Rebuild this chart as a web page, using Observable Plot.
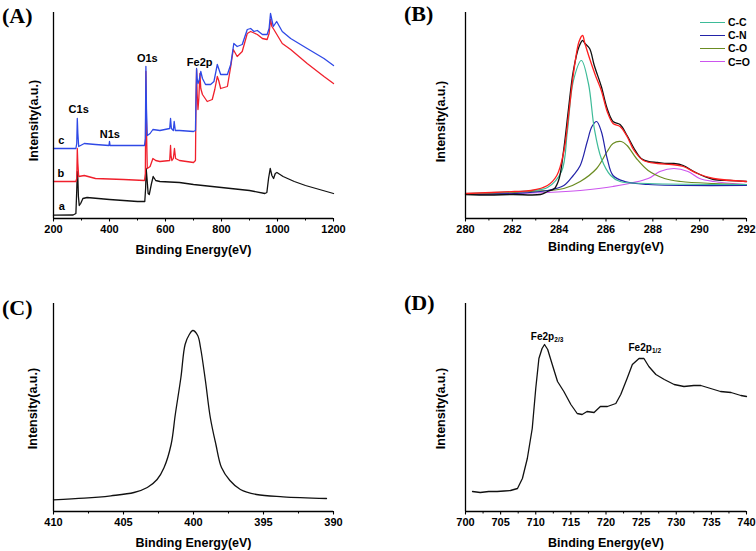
<!DOCTYPE html>
<html><head><meta charset="utf-8">
<script src="https://cdn.jsdelivr.net/npm/d3@7"></script>
<script src="https://cdn.jsdelivr.net/npm/@observablehq/plot@0.6"></script>
<style>
body{margin:0;background:#fff;}
#fig{position:relative;width:756px;height:551px;overflow:hidden;font-family:"Liberation Sans",Arial,Helvetica,sans-serif;}
.panel{position:absolute;}
.plabel{position:absolute;font-family:"Liberation Serif","Times New Roman",serif;font-weight:bold;font-size:22px;line-height:22px;}
.leg{position:absolute;font-weight:bold;font-size:10.5px;line-height:12px;height:12px;white-space:nowrap;}
.leg span.sw{display:inline-block;width:25px;height:0;vertical-align:middle;margin-right:3px;position:relative;top:-1px;}
</style></head>
<body>
<div id="fig">
  <div id="pA" class="panel" style="left:0;top:0"></div>
  <div id="pB" class="panel" style="left:378px;top:0"></div>
  <div id="pC" class="panel" style="left:0;top:275px"></div>
  <div id="pD" class="panel" style="left:378px;top:275px"></div>
  <div class="plabel" style="left:2px;top:5px">(A)</div>
  <div class="plabel" style="left:404px;top:3px">(B)</div>
  <div class="plabel" style="left:2px;top:297px">(C)</div>
  <div class="plabel" style="left:404px;top:292px">(D)</div>
</div>
<script>
// ---------- Panel A: survey spectra ----------
const surveyE_a = [200,270,280,283,285,287,289,292,297,305,320,400,500,526,529,531,534,538,542,550,556,565,580,650,700,800,900,955,962,968,974,980,986,992,998,1020,1060,1100,1150,1200];
const surveyI_a = [3.3,3.5,5,28,47,40,22,13,15,20,21,19,17,17,30,50,40,25,24,35,42,38,37,36,34,31,28,25,26,40,50,43,40,45,46,42,37,33,29,25];
const surveyE_b = [200,280,283,285,287,290,310,350,450,525,528,530,532,535,545,555,565,580,615,618,620,623,628,632,636,650,700,707,709,711,713,716,719,723,726,732,749,767,776,785,790,797,821,833,842,856,874,892,904,928,946,963,970,975,980,987,1017,1047,1106,1166,1200];
const surveyI_b = [37,37,40,70,55,42,43,40,39,38,45,147,90,50,52,60,58,57,58,73,62,58,60,70,60,58,56,58,120,149,125,109,120,145,130,124,117,119,129,142,138,130,132,152,169,162,167,185,187,184,180,179,185,199,192,189,175,169,155,142,135];
const surveyE_c = [200,280,283,285,287,290,310,350,398,400,402,450,525,528,530,532,535,545,555,580,615,618,621,628,631,635,650,700,707,709,711,713,716,720,726,732,743,761,773,785,797,821,833,844,856,874,892,904,916,928,946,963,970,975,985,997,1017,1047,1106,1166,1200];
const surveyI_c = [70,70,75,100,85,72,75,74,73,77,73,73,73,80,152,110,83,85,89,88,90,100,90,88,97,88,88,87,88,120,150,140,135,138,147,140,134,134,137,154,144,144,154,175,172,174,189,190,187,188,184,184,190,205,192,197,187,180,170,160,153];
const surveyTicks = [200,400,600,800,1000,1200];
const surveyMinor = [300,500,700,900,1100];
const surveyLabels = ["C1s","N1s","O1s","Fe2p","c","b","a"];
const surveyLabelE = [290,401,535,722,228,226,230];
const surveyLabelI = [109,84,160,156,78,45,12];

// ---------- Panel B: C1s high resolution ----------
const c1sE_raw = [280,281,282,283.2,283.5,283.8,284,284.2,284.4,284.6,284.85,285,285.1,285.3,285.5,285.8,286.05,286.3,286.6,286.9,287.2,287.5,287.8,288.2,288.6,288.9,289.3,289.75,290.2,290.6,291.3,292];
const c1sI_raw = [24,23.5,24,24,27,30,40,70,110,147,172,178,175,170,153,132,110,97,94,83,70,60,57,56,55,55,53,47,42,39,38,37];
const c1sE_fit = [280,282.1,282.8,283.5,283.9,284.2,284.4,284.6,284.85,285,285.1,285.3,285.55,285.8,286.05,286.3,286.6,286.9,287.2,287.6,288.2,288.8,289.3,289.9,290.6,292];
const c1sI_fit = [25,27,28,33,43,67,103,143,177,183,175,160,143,128,107,95,92,82,68,58,55,54,52,45,40,37];
const c1sE_CC = [280,282.8,283.5,284.1,284.35,284.6,284.95,285.25,285.5,285.8,286.2,286.6,287.8,292];
const c1sI_CC = [25,28,31,47,87,137,158,135,90,60,43,37,35,34];
const c1sE_CN = [280,282.1,283.5,284.2,284.6,284.9,285.2,285.4,285.6,285.8,286.05,286.3,286.8,287.8,292];
const c1sI_CN = [24,25,28,33,43,53,77,92,97,87,60,43,37,34,33];
const c1sE_CO = [280,282.8,284.2,284.9,285.6,286.05,286.3,286.65,286.9,287.3,287.8,288.5,289.2,290.6,292];
const c1sI_CO = [24,27,30,37,50,67,75,77,73,60,48,40,37,35,34];
const c1sE_C2O = [280,283.5,284.9,286.3,287.8,288.3,288.9,289.5,290,290.6,292];
const c1sI_C2O = [24,26,28,32,40,47,50,47,40,37,34];
const c1sTicks = [280,282,284,286,288,290,292];
const c1sMinor = [281,283,285,287,289,291];
const legendNames = ["C-C","C-N","C-O","C=O"];
const legendColors = ["#3dbb98","#2323a8","#6b8c22","#cc55ee"];

// ---------- Panel C: N1s ----------
const n1sE = [410,407.8,405.9,404.25,403.3,402.6,402.1,401.6,401.3,400.9,400.6,400.3,400.05,399.7,399.5,399.15,398.8,398.4,398,397.4,396.65,395.5,393.6,390.5];
const n1sI = [11.7,13.3,15.7,19,24,32,44,67,97,134,167,177,181,176,164,131,94,67,44,31,22,17,14.7,13];
const n1sTicks = [410,405,400,395,390];
const n1sMinor = [407.5,402.5,397.5,392.5];

// ---------- Panel D: Fe2p ----------
const fe2pE = [701,702.1,703.3,704.5,705.5,706.4,707.4,708.1,708.8,709.5,710,710.45,710.9,711.25,711.7,712.35,713.1,714,715,715.9,716.6,717.3,718.3,719.2,720.2,721.4,722.1,723,723.75,724.7,725.4,726.1,727.1,728.3,729.7,731.1,732.5,733.5,734.9,736.3,737.8,739.2,740];
const fe2pI = [20,19,20,20,20.5,21,23,33,53,83,123,153,163,167,162,147,130,120,107,98,97,100,99,105,105,108,117,133,147,153,153,145,137,132,127,125,126,126,123,120,119,116,115];
const fe2pTicks = [700,705,710,715,720,725,730,735,740];
const fe2pMinor = [702.5,707.5,712.5,717.5,722.5,727.5,732.5,737.5];
const fe2pLabels = ["Fe2p","Fe2p"];
const fe2pSubs = ["2/3","1/2"];
const fe2pLabelE = [709.3,723.2];
const fe2pLabelI = [172,161];

const font = '"Liberation Sans", Arial, Helvetica, sans-serif';
const pts = (xs, ys) => xs.map((x, i) => ({x, y: ys[i]}));

function panel({width, height, margin, xDomain, yMax, majors, minors, tickPad, xLabelDy, yLabelDx, yLabelDy, marks}) {
  return Plot.plot({
    width, height,
    marginTop: margin[0], marginRight: margin[1], marginBottom: margin[2], marginLeft: margin[3],
    x: {domain: xDomain, label: null},
    y: {domain: [0, yMax], axis: null},
    style: {fontFamily: font, fontWeight: "bold", color: "#000", background: "transparent", overflow: "visible"},
    marks: [
      Plot.axisX(minors, {tickSize: 2.5, tickFormat: () => "", label: null, strokeWidth: 1}),
      Plot.axisX(majors, {tickSize: 3.5, tickPadding: tickPad, tickFormat: d => String(d), label: null, fontSize: 11, fontWeight: "bold", strokeWidth: 1.1}),
      ...marks,
      Plot.ruleY([0], {stroke: "#000", strokeWidth: 1.3}),
      Plot.ruleX([xDomain[0]], {stroke: "#000", strokeWidth: 1.3}),
      Plot.text(["Intensity(a.u.)"], {text: d => d, frameAnchor: "left", rotate: -90, dx: yLabelDx, dy: yLabelDy, fontSize: 12.5, fontWeight: "bold", textAnchor: "middle", lineAnchor: "middle"}),
      Plot.text(["Binding Energy(eV)"], {text: d => d, frameAnchor: "bottom", dy: xLabelDy, fontSize: 12.5, fontWeight: "bold", lineAnchor: "middle"})
    ]
  });
}

// Panel A
const labA = surveyLabels.map((t, i) => ({t, x: surveyLabelE[i], y: surveyLabelI[i]}));
document.getElementById("pA").append(panel({
  width: 378, height: 275, margin: [12, 45, 57, 53],
  xDomain: [200, 1200], yMax: 206, majors: surveyTicks, minors: surveyMinor, tickPad: 3.5,
  xLabelDy: 31, yLabelDx: -20, yLabelDy: 5,
  marks: [
    Plot.line(pts(surveyE_a, surveyI_a), {x: "x", y: "y", stroke: "#111", strokeWidth: 1.3}),
    Plot.line(pts(surveyE_b, surveyI_b), {x: "x", y: "y", stroke: "#f0202c", strokeWidth: 1.3}),
    Plot.line(pts(surveyE_c, surveyI_c), {x: "x", y: "y", stroke: "#2f49e6", strokeWidth: 1.3}),
    Plot.text(labA, {x: "x", y: "y", text: "t", fontSize: 11, fontWeight: "bold", lineAnchor: "middle", fill: "#000"})
  ]
}));

// Panel B
document.getElementById("pB").append(panel({
  width: 378, height: 275, margin: [12, 10, 57, 87],
  xDomain: [280, 292], yMax: 206, majors: c1sTicks, minors: c1sMinor, tickPad: 3.5,
  xLabelDy: 28, yLabelDx: -25, yLabelDy: 6,
  marks: [
    Plot.line(pts(c1sE_C2O, c1sI_C2O), {x: "x", y: "y", stroke: legendColors[3], strokeWidth: 1.2, curve: "catmull-rom"}),
    Plot.line(pts(c1sE_CO, c1sI_CO), {x: "x", y: "y", stroke: legendColors[2], strokeWidth: 1.2, curve: "catmull-rom"}),
    Plot.line(pts(c1sE_CN, c1sI_CN), {x: "x", y: "y", stroke: legendColors[1], strokeWidth: 1.2, curve: "catmull-rom"}),
    Plot.line(pts(c1sE_CC, c1sI_CC), {x: "x", y: "y", stroke: legendColors[0], strokeWidth: 1.2, curve: "catmull-rom"}),
    Plot.line(pts(c1sE_raw, c1sI_raw), {x: "x", y: "y", stroke: "#111", strokeWidth: 1.3, curve: "catmull-rom"}),
    Plot.line(pts(c1sE_fit, c1sI_fit), {x: "x", y: "y", stroke: "#ff1f1f", strokeWidth: 1.3, curve: "catmull-rom"})
  ]
}));

// Panel C
document.getElementById("pC").append(panel({
  width: 378, height: 276, margin: [28, 45, 40, 53],
  xDomain: [410, 390], yMax: 208, majors: n1sTicks, minors: n1sMinor, tickPad: 3,
  xLabelDy: 31, yLabelDx: -21, yLabelDy: 1,
  marks: [
    Plot.line(pts(n1sE, n1sI), {x: "x", y: "y", stroke: "#111", strokeWidth: 1.3, curve: "catmull-rom"})
  ]
}));

// Panel D
const labD = fe2pLabels.map((t, i) => ({t, s: fe2pSubs[i], x: fe2pLabelE[i], y: fe2pLabelI[i]}));
document.getElementById("pD").append(panel({
  width: 378, height: 276, margin: [28, 10, 40, 87],
  xDomain: [700, 740], yMax: 208, majors: fe2pTicks, minors: fe2pMinor, tickPad: 3,
  xLabelDy: 31, yLabelDx: -25, yLabelDy: 1,
  marks: [
    Plot.line(pts(fe2pE, fe2pI), {x: "x", y: "y", stroke: "#111", strokeWidth: 1.3}),
    Plot.text(labD, {x: "x", y: "y", text: "t", fontSize: 10, fontWeight: "bold", textAnchor: "start", lineAnchor: "bottom"}),
    Plot.text(labD, {x: "x", y: "y", text: "s", fontSize: 6.5, fontWeight: "bold", textAnchor: "start", lineAnchor: "bottom", dx: 23.5, dy: 2})
  ]
}));

// Legend for panel B
const fig = document.getElementById("fig");
legendNames.forEach((name, i) => {
  const d = document.createElement("div");
  d.className = "leg";
  d.style.left = "700px";
  d.style.top = (16 + i * 13.2) + "px";
  const sw = document.createElement("span");
  sw.className = "sw";
  sw.style.borderTop = "1.6px solid " + legendColors[i];
  d.append(sw, document.createTextNode(name));
  fig.append(d);
});
</script>
</body></html>
